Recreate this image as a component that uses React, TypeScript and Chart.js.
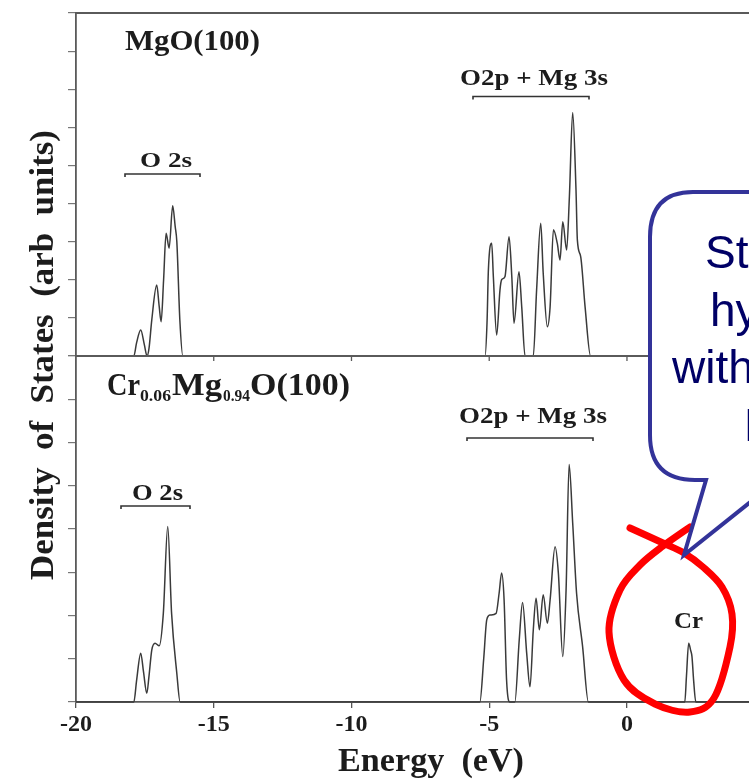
import React, { useEffect, useRef } from 'react';
import { Chart, registerables } from 'chart.js';

Chart.register(...registerables);

// ---- axis ----
const X_TICKS = [-20, -15, -10, -5, 0];
const X_MIN = -20;
const X_MAX = 4.43;
const Y_TOP_MAX = 9;
const Y_BOT_MAX = 8;

// ---- MgO(100) DOS ----
const MGO_ENERGY = [
  -20,
  -17.9, -17.8, -17.65, -17.52, -17.42, -17.35, -17.25, -17.07, -16.98, -16.91, -16.82, -16.73, -16.62, -16.49, -16.4, -16.34, -16.23, -16.12,
  -5.15, -5.08, -5.03, -4.91, -4.85, -4.73, -4.61, -4.55, -4.43, -4.28, -4.18, -4.1, -3.92, -3.82, -3.7, -3.4, -3.28, -3.13, -3.04, -2.89, -2.79, -2.67, -2.53, -2.43, -2.33, -2.19, -2.09, -1.97, -1.85, -1.8, -1.68, -1.52, -1.32,
  5,
];
const MGO_DOS = [
  0,
  0, 0.35, 0.68, 0.3, 0, 0.2, 0.94, 1.86, 1.3, 0.9, 2.0, 3.22, 2.83, 3.94, 3.4, 3.0, 0.94, 0,
  0, 0.87, 2.26, 2.96, 2.08, 0.55, 1.73, 2.0, 2.08, 3.13, 2.08, 0.86, 2.21, 1.29, 0, 0, 1.73, 3.48, 2.17, 0.77, 1.29, 3.31, 2.96, 2.52, 3.52, 2.78, 4.18, 6.39, 4.36, 3.04, 2.61, 1.29, 0,
  0,
];

// ---- Cr0.06Mg0.94O(100) DOS ----
const CRMGO_ENERGY = [
  -20,
  -17.9, -17.8, -17.65, -17.55, -17.43, -17.35, -17.25, -17.13, -16.98, -16.83, -16.67, -16.53, -16.34, -16.22,
  -5.34, -5.2, -5.09, -4.97, -4.75, -4.64, -4.55, -4.46, -4.37, -4.25, -4.07, -3.91, -3.79, -3.64, -3.52, -3.4, -3.3, -3.18, -3.04, -2.89, -2.79, -2.61, -2.49, -2.33, -2.21, -2.1, -1.97, -1.83, -1.61, -1.4,
  2.1, 2.16, 2.24, 2.31, 2.36, 2.42, 2.5,
  5,
];
const CRMGO_DOS = [
  0,
  0, 0.5, 1.13, 0.7, 0.2, 0.6, 1.2, 1.36, 1.3, 2.05, 4.06, 2.05, 0.66, 0,
  0, 1.0, 1.9, 2.01, 2.05, 2.52, 2.98, 2.36, 0.51, 0, 0, 1.44, 2.3, 1.13, 0.35, 1.67, 2.4, 1.67, 2.48, 1.82, 2.36, 3.59, 2.98, 1.05, 2.59, 5.49, 4.14, 2.52, 1.28, 0,
  0, 0.6, 1.36, 1.2, 1.05, 0.5, 0,
  0,
];

// ---- texts ----
const Y_TITLE = 'Density  of  States  (arb  units)';
const X_TITLE = 'Energy  (eV)';
const TOP_TITLE = 'MgO(100)';
const BOT_TITLE_PARTS = ['Cr', '0.06', 'Mg', '0.94', 'O(100)'];
const LABEL_O2S = 'O 2s';
const LABEL_O2P = 'O2p + Mg 3s';
const LABEL_CR = 'Cr';
const BUBBLE_LINES = ['States in', 'hybridized', 'with O 2p', 'LUMO'];

const SERIF = '"Liberation Serif", "Times New Roman", serif';
const SANS = '"Liberation Sans", Arial, sans-serif';
const INK = '#1c1c1c';
const AXIS = '#5a5a5a';

function fitText(ctx: CanvasRenderingContext2D, text: string, x: number, y: number, w: number, font: string) {
  ctx.font = font;
  const m = ctx.measureText(text).width;
  ctx.save();
  ctx.translate(x, y);
  ctx.scale(w / m, 1);
  ctx.textAlign = 'left';
  ctx.textBaseline = 'alphabetic';
  ctx.fillText(text, 0, 0);
  ctx.restore();
}

function bracket(ctx: CanvasRenderingContext2D, x1: number, x2: number, y: number) {
  ctx.save();
  ctx.strokeStyle = '#333';
  ctx.lineWidth = 1.6;
  ctx.beginPath();
  ctx.moveTo(x1, y + 3);
  ctx.lineTo(x1, y);
  ctx.lineTo(x2, y);
  ctx.lineTo(x2, y + 3);
  ctx.stroke();
  ctx.restore();
}

function smoothPath(ctx: CanvasRenderingContext2D, pts: number[][]) {
  ctx.moveTo(pts[0][0], pts[0][1]);
  for (let i = 0; i < pts.length - 1; i++) {
    const p0 = pts[i - 1] || pts[i];
    const p1 = pts[i];
    const p2 = pts[i + 1];
    const p3 = pts[i + 2] || p2;
    const c1x = p1[0] + (p2[0] - p0[0]) / 6;
    const c1y = p1[1] + (p2[1] - p0[1]) / 6;
    const c2x = p2[0] - (p3[0] - p1[0]) / 6;
    const c2y = p2[1] - (p3[1] - p1[1]) / 6;
    ctx.bezierCurveTo(c1x, c1y, c2x, c2y, p2[0], p2[1]);
  }
}

const annotations = {
  id: 'annotations',
  afterDraw(chart: any) {
    const ctx: CanvasRenderingContext2D = chart.ctx;
    const { left, right, top } = chart.chartArea;
    const xs = chart.scales.x;
    const yTop = chart.scales.yTop;
    const base = yTop.getPixelForValue(0);

    ctx.save();
    // top frame line and upper panel baseline
    ctx.strokeStyle = AXIS;
    ctx.lineWidth = 1.8;
    ctx.beginPath();
    ctx.moveTo(left, top);
    ctx.lineTo(right, top);
    ctx.moveTo(left, base);
    ctx.lineTo(right, base);
    ctx.stroke();
    // tick marks on upper panel baseline
    ctx.lineWidth = 1.3;
    for (const v of X_TICKS.slice(1)) {
      const px = xs.getPixelForValue(v);
      ctx.beginPath();
      ctx.moveTo(px, base);
      ctx.lineTo(px, base + 5);
      ctx.stroke();
    }

    ctx.fillStyle = INK;
    // panel titles
    fitText(ctx, TOP_TITLE, 125, 49.5, 135, `bold 30px ${SERIF}`);
    fitText(ctx, BOT_TITLE_PARTS[0], 107, 395, 33, `bold 31px ${SERIF}`);
    fitText(ctx, BOT_TITLE_PARTS[1], 140, 401, 31, `bold 17px ${SERIF}`);
    fitText(ctx, BOT_TITLE_PARTS[2], 172, 395, 50, `bold 31px ${SERIF}`);
    fitText(ctx, BOT_TITLE_PARTS[3], 223, 401, 27, `bold 17px ${SERIF}`);
    fitText(ctx, BOT_TITLE_PARTS[4], 250, 395, 100, `bold 31px ${SERIF}`);

    // band labels
    fitText(ctx, LABEL_O2S, 140, 167, 52, `bold 22px ${SERIF}`);
    bracket(ctx, 125, 200, 174);
    fitText(ctx, LABEL_O2P, 460, 85, 148, `bold 24px ${SERIF}`);
    bracket(ctx, 473, 589, 96.5);
    fitText(ctx, LABEL_O2S, 132, 500, 51, `bold 24px ${SERIF}`);
    bracket(ctx, 121, 190, 506);
    fitText(ctx, LABEL_O2P, 459, 423, 148, `bold 23px ${SERIF}`);
    bracket(ctx, 467, 593, 438);
    fitText(ctx, LABEL_CR, 674, 628, 29, `bold 24px ${SERIF}`);

    // axis titles
    fitText(ctx, X_TITLE, 338, 771, 186, `bold 33px ${SERIF}`);
    ctx.save();
    ctx.translate(53, 580);
    ctx.rotate(-Math.PI / 2);
    fitText(ctx, Y_TITLE, 0, 0, 450, `bold 34px ${SERIF}`);
    ctx.restore();

    // callout bubble
    const bubble = () => {
      ctx.beginPath();
      ctx.moveTo(693, 192);
      ctx.lineTo(900, 192);
      ctx.lineTo(900, 480);
      ctx.lineTo(778, 480);
      ctx.lineTo(684, 555);
      ctx.lineTo(706, 480);
      ctx.lineTo(695, 480);
      ctx.quadraticCurveTo(650, 480, 650, 435);
      ctx.lineTo(650, 237);
      ctx.quadraticCurveTo(650, 192, 693, 192);
      ctx.closePath();
    };
    ctx.fillStyle = '#ffffff';
    bubble();
    ctx.fill();

    // red hand-drawn loop
    ctx.strokeStyle = '#ff0000';
    ctx.lineWidth = 7;
    ctx.lineCap = 'round';
    ctx.lineJoin = 'round';
    ctx.beginPath();
    smoothPath(ctx, [
      [630, 528], [663, 543], [684, 553], [703, 567], [722, 587], [732, 614], [730, 647],
      [714, 698], [690, 712], [655, 704], [624, 680], [609, 632], [620, 590], [640, 565], [663, 546], [690, 527],
    ]);
    ctx.stroke();

    ctx.strokeStyle = '#333399';
    ctx.lineWidth = 4;
    ctx.lineJoin = 'miter';
    bubble();
    ctx.stroke();

    ctx.fillStyle = '#000066';
    ctx.font = `46px ${SANS}`;
    ctx.textAlign = 'left';
    ctx.textBaseline = 'alphabetic';
    ctx.fillText(BUBBLE_LINES[0], 705, 268);
    ctx.fillText(BUBBLE_LINES[1], 710, 326);
    ctx.fillText(BUBBLE_LINES[2], 672, 383);
    ctx.fillText(BUBBLE_LINES[3], 744, 441);
    ctx.restore();
  },
};

export default function App() {
  const ref = useRef<HTMLCanvasElement | null>(null);

  useEffect(() => {
    if (!ref.current) return;
    const mgo = MGO_ENERGY.map((e, i) => ({ x: e, y: MGO_DOS[i] }));
    const crmgo = CRMGO_ENERGY.map((e, i) => ({ x: e, y: CRMGO_DOS[i] }));
    const yScale = (max: number, weight: number, stackWeight: number) => ({
      type: 'linear' as const,
      position: 'left' as const,
      stack: 'dos',
      stackWeight,
      weight,
      min: 0,
      max,
      ticks: { display: false, stepSize: 1 },
      grid: { drawOnChartArea: false, drawTicks: true, tickLength: 8, color: '#777', lineWidth: 1.2 },
      border: { display: true, color: AXIS, width: 1.8 },
      afterFit: (s: any) => { s.width = 76; },
    });
    const lineStyle = {
      borderColor: '#3a3a3a',
      borderWidth: 1.5,
      pointRadius: 0,
      cubicInterpolationMode: 'monotone',
      fill: false,
      clip: false,
    };
    const chart = new Chart(ref.current, {
      type: 'line',
      data: {
        datasets: [
          { label: 'MgO(100)', data: mgo, yAxisID: 'yTop', ...lineStyle },
          { label: 'Cr0.06Mg0.94O(100)', data: crmgo, yAxisID: 'yBot', ...lineStyle },
        ],
      },
      options: {
        responsive: true,
        maintainAspectRatio: false,
        animation: false,
        layout: { padding: { top: 13, left: 0, right: 0, bottom: 0 } },
        plugins: { legend: { display: false }, tooltip: { enabled: false } },
        scales: {
          x: {
            type: 'linear',
            position: 'bottom',
            min: X_MIN,
            max: X_MAX,
            afterBuildTicks: (s: any) => { s.ticks = X_TICKS.map((v) => ({ value: v })); },
            ticks: {
              color: INK,
              padding: 2,
              font: { family: SERIF, size: 24, weight: 'bold' },
              callback: (v: any) => String(v),
              maxRotation: 0,
              autoSkip: false,
            },
            grid: { drawOnChartArea: false, drawTicks: true, tickLength: 6, color: '#555', lineWidth: 1.3 },
            border: { display: true, color: AXIS, width: 1.8 },
            afterFit: (s: any) => { s.height = 77; },
          },
          yTop: yScale(Y_TOP_MAX, 2, 343),
          yBot: yScale(Y_BOT_MAX, 1, 346),
        },
      } as any,
      plugins: [annotations],
    });
    return () => chart.destroy();
  }, []);

  return (
    <div style={{ position: 'fixed', left: 0, top: 0, width: 749, height: 779, background: '#fff', overflow: 'hidden' }}>
      <canvas ref={ref} />
    </div>
  );
}
